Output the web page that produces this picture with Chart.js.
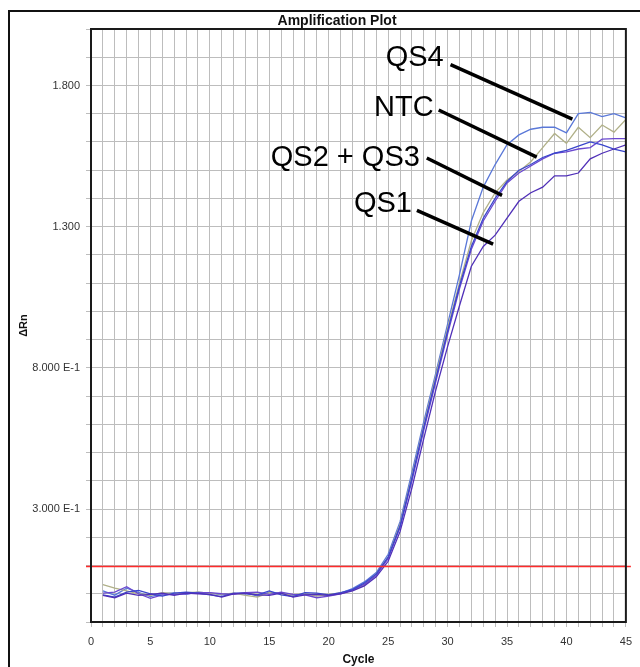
<!DOCTYPE html>
<html>
<head>
<meta charset="utf-8">
<script src="https://cdn.jsdelivr.net/npm/chart.js@4.4.1/dist/chart.umd.min.js"></script>
<style>
  html, body { margin: 0; padding: 0; background: #ffffff; }
  canvas { display: block; }
</style>
</head>
<body>
<canvas id="c" width="640" height="667"></canvas>
<script>
// ---------- DATA ----------
const cycles = [1,2,3,4,5,6,7,8,9,10,11,12,13,14,15,16,17,18,19,20,21,22,23,24,25,26,27,28,29,30,31,32,33,34,35,36,37,38,39,40,41,42,43,44,45];

const seriesNames = ['QS1', 'QS2', 'QS3', 'NTC', 'QS4'];

const qs1Values = [-0.006,-0.014,0.002,-0.006,-0.002,0.002,-0.006,0.002,0.000,-0.002,-0.012,0.000,0.002,-0.004,-0.006,0.002,-0.012,-0.004,-0.002,-0.006,0.000,0.010,0.028,
  0.06,0.115,0.22,0.375,0.55,0.72,0.875,1.02,1.16,1.23,1.27,1.33,1.39,1.42,1.44,1.48,1.48,1.49,1.54,1.56,1.575,1.59];
const qs2Values = [-0.004,-0.012,0.006,0.012,0.000,-0.008,0.002,0.006,0.002,-0.004,-0.010,0.002,0.000,-0.004,0.010,-0.004,-0.010,0.004,0.002,-0.004,0.004,0.015,0.038,
  0.07,0.13,0.24,0.41,0.59,0.76,0.93,1.09,1.23,1.33,1.40,1.46,1.50,1.52,1.545,1.56,1.57,1.585,1.60,1.59,1.575,1.565];
const qs3Values = [0.002,0.006,0.025,0.000,-0.016,-0.004,-0.002,0.000,0.004,0.004,0.000,-0.002,0.004,0.006,-0.002,0.006,-0.002,-0.004,-0.014,-0.008,0.000,0.014,0.034,
  0.065,0.125,0.235,0.40,0.58,0.75,0.92,1.08,1.22,1.32,1.39,1.455,1.49,1.515,1.54,1.56,1.565,1.575,1.58,1.61,1.612,1.612];
const ntcValues = [0.032,0.020,0.010,0.000,-0.006,0.004,0.000,0.004,0.006,0.002,-0.002,0.002,-0.006,-0.012,0.004,0.000,-0.004,0.000,-0.008,-0.002,0.003,0.012,0.030,
  0.07,0.13,0.245,0.415,0.595,0.77,0.94,1.10,1.25,1.35,1.42,1.465,1.495,1.53,1.58,1.63,1.595,1.652,1.615,1.66,1.635,1.68];
const qs4Values = [0.010,-0.005,0.020,0.005,-0.010,0.000,0.003,-0.002,0.006,0.002,-0.004,0.000,0.004,-0.008,0.006,0.002,-0.006,-0.002,-0.004,-0.006,0.002,0.018,0.042,
  0.075,0.14,0.255,0.43,0.61,0.78,0.955,1.13,1.32,1.44,1.52,1.59,1.625,1.645,1.652,1.652,1.632,1.70,1.705,1.69,1.70,1.685];

const thresholdValue = 0.1;

const xTickValues = [0,5,10,15,20,25,30,35,40,45];
const xTickLabels = ['0','5','10','15','20','25','30','35','40','45'];
const yTickValues = [0.3, 0.8, 1.3, 1.8];
const yTickLabels = ['3.000 E-1', '8.000 E-1', '1.300', '1.800'];

const chartTitle = 'Amplification Plot';
const xAxisTitle = 'Cycle';
const yAxisTitle = '\u0394Rn';

// annotation callouts (data coordinates: cycle, ΔRn)
const calloutTexts = ['QS4', 'NTC', 'QS2 + QS3', 'QS1'];
const calloutTextCycle = [29.67, 28.83, 27.67, 27.0];
const calloutTextValue = [1.901, 1.723, 1.546, 1.383];
const leaderStartCycle = [30.25, 29.25, 28.25, 27.42];
const leaderStartValue = [1.874, 1.713, 1.543, 1.358];
const leaderEndCycle = [40.5, 37.5, 34.58, 33.83];
const leaderEndValue = [1.681, 1.546, 1.411, 1.238];

// ---------- STYLE ----------
const seriesColors = ['#5030b8', '#3a46cc', '#6a48d0', '#b0b088', '#5a78d8'];
const seriesValues = [qs1Values, qs2Values, qs3Values, ntcValues, qs4Values];

const datasets = seriesNames.map((name, s) => ({
  label: name,
  data: cycles.map((c, i) => ({ x: c, y: seriesValues[s][i] })),
  borderColor: seriesColors[s],
  borderWidth: 1.3,
  pointRadius: 0,
  tension: 0,
  fill: false
}));

const decorPlugin = {
  id: 'decor',
  beforeDraw(chart) {
    const ctx = chart.ctx;
    ctx.save();
    ctx.fillStyle = '#ffffff';
    ctx.fillRect(0, 0, chart.width, chart.height);
    // outer frame (left + top visible)
    ctx.strokeStyle = '#111';
    ctx.lineWidth = 2;
    ctx.beginPath();
    ctx.moveTo(9, chart.height + 2);
    ctx.lineTo(9, 11);
    ctx.lineTo(chart.width + 2, 11);
    ctx.stroke();
    ctx.restore();
  },
  afterDatasetsDraw(chart) {
    const ctx = chart.ctx;
    const a = chart.chartArea;
    const xs = chart.scales.x, ys = chart.scales.y;
    ctx.save();
    // threshold line
    const ty = Math.round(ys.getPixelForValue(thresholdValue)) + 0.5;
    ctx.strokeStyle = '#ff2a2a';
    ctx.lineWidth = 1.5;
    ctx.beginPath();
    ctx.moveTo(a.left - 5, ty);
    ctx.lineTo(a.right + 5, ty);
    ctx.stroke();
    // plot border
    ctx.strokeStyle = '#1a1a1a';
    ctx.lineWidth = 2;
    ctx.strokeRect(a.left, a.top, a.right - a.left, a.bottom - a.top);
    // title
    ctx.fillStyle = '#111';
    ctx.font = 'bold 14px "Liberation Sans", Arial, sans-serif';
    ctx.textAlign = 'center';
    ctx.textBaseline = 'alphabetic';
    ctx.fillText(chartTitle, a.left + (a.right - a.left) * 0.46, a.top - 4);
    // callouts
    ctx.fillStyle = '#000';
    ctx.font = '29px "Liberation Sans", Arial, sans-serif';
    ctx.textAlign = 'right';
    ctx.textBaseline = 'middle';
    ctx.strokeStyle = '#000';
    ctx.lineWidth = 3.5;
    ctx.lineCap = 'butt';
    for (let i = 0; i < calloutTexts.length; i++) {
      ctx.fillText(calloutTexts[i], xs.getPixelForValue(calloutTextCycle[i]), ys.getPixelForValue(calloutTextValue[i]) + 1);
      ctx.beginPath();
      ctx.moveTo(xs.getPixelForValue(leaderStartCycle[i]), ys.getPixelForValue(leaderStartValue[i]));
      ctx.lineTo(xs.getPixelForValue(leaderEndCycle[i]), ys.getPixelForValue(leaderEndValue[i]));
      ctx.stroke();
    }
    ctx.restore();
  }
};

function findLabel(values, labels, v) {
  for (let i = 0; i < values.length; i++) {
    if (Math.abs(values[i] - v) < 1e-6) return labels[i];
  }
  return '';
}

new Chart(document.getElementById('c'), {
  type: 'line',
  data: { datasets },
  plugins: [decorPlugin],
  options: {
    responsive: false,
    animation: false,
    devicePixelRatio: 1,
    layout: { padding: { top: 29, right: 10, left: 0, bottom: 0 } },
    plugins: {
      legend: { display: false },
      title: { display: false },
      tooltip: { enabled: false }
    },
    scales: {
      x: {
        type: 'linear',
        min: 0, max: 45,
        afterFit: (s) => { s.height = 45; },
        ticks: {
          stepSize: 1,
          autoSkip: false,
          maxRotation: 0,
          padding: 8,
          color: '#333',
          font: { family: '"Liberation Sans", Arial, sans-serif', size: 11 },
          callback: (v) => findLabel(xTickValues, xTickLabels, v)
        },
        grid: { color: '#bdbdbd', lineWidth: 1, tickLength: 5, drawTicks: true },
        border: { display: true, color: '#1a1a1a', width: 2 },
        title: {
          display: true, text: xAxisTitle, color: '#111',
          font: { family: '"Liberation Sans", Arial, sans-serif', size: 12, weight: 'bold' },
          padding: { top: 0, bottom: 0 }
        }
      },
      y: {
        type: 'linear',
        min: -0.1, max: 2.0,
        afterFit: (s) => { s.width = 91; },
        ticks: {
          stepSize: 0.1,
          autoSkip: false,
          padding: 6,
          color: '#333',
          font: { family: '"Liberation Sans", Arial, sans-serif', size: 11 },
          callback: (v) => findLabel(yTickValues, yTickLabels, v)
        },
        grid: { color: '#bdbdbd', lineWidth: 1, tickLength: 5, drawTicks: true },
        border: { display: true, color: '#1a1a1a', width: 2 },
        title: {
          display: true, text: yAxisTitle, color: '#111',
          font: { family: '"Liberation Sans", Arial, sans-serif', size: 11, weight: 'bold' },
          padding: { top: 17, bottom: 0 }
        }
      }
    }
  }
});
</script>
</body>
</html>
